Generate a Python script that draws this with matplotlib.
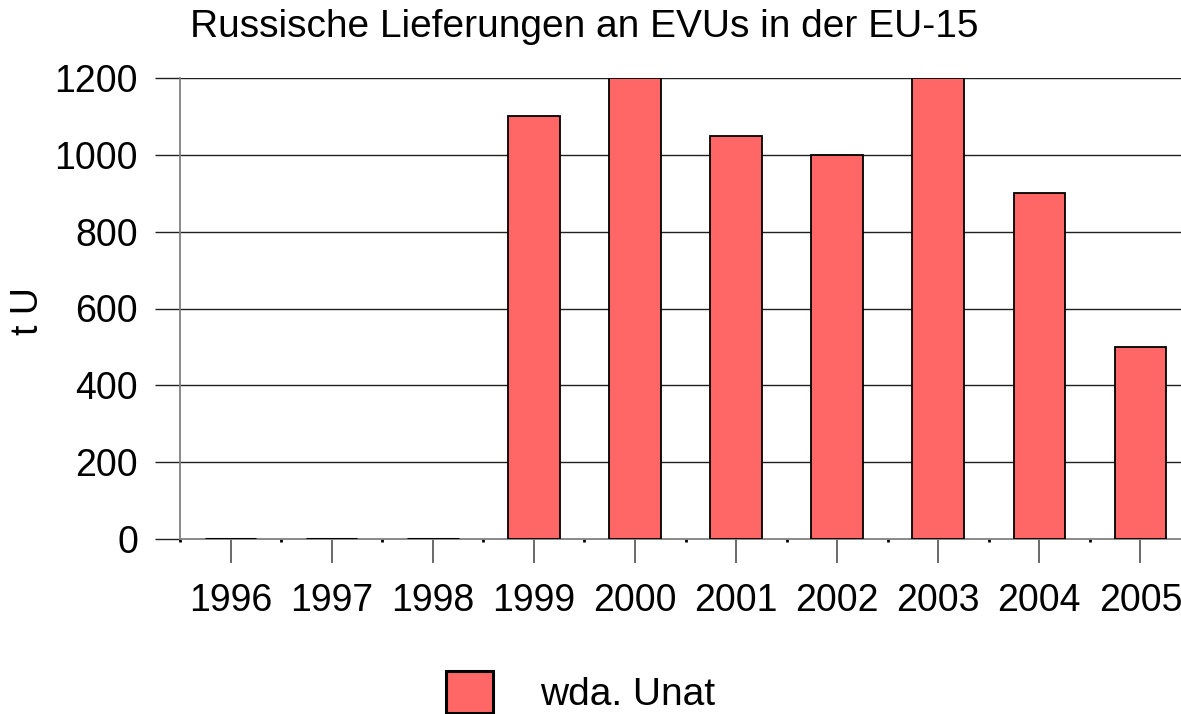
import numpy as np
import matplotlib.pyplot as plt
from matplotlib.ticker import FixedLocator

plt.rcParams['font.family'] = ['Liberation Sans', 'DejaVu Sans']

years = ['1996', '1997', '1998', '1999', '2000', '2001', '2002', '2003', '2004', '2005']
values = [0, 0, 0, 1100, 1200, 1050, 1000, 1200, 900, 500]
series_name = 'wda. Unat'
title = 'Russische Lieferungen an EVUs in der EU-15'
ylabel = 't U'
yticks = [0, 200, 400, 600, 800, 1000, 1200]

W, H = 1181, 714
PX = 72 / 100  # points per pixel at dpi 100
fig = plt.figure(figsize=(W / 100, H / 100), dpi=100)
# axes: left at x=180px, right beyond image edge (~1191px), y from 78 to 539 px
ax = fig.add_axes([180 / W, (H - 539) / H, (1191 - 180) / W, (539 - 78) / H])

x = np.arange(len(years))
bars = ax.bar(x, values, width=0.51, color='#FF6666', edgecolor='black',
              linewidth=1.3, label=series_name, zorder=4)
# zero-height bars show as a heavier black stroke on the baseline
for rect, v in zip(bars, values):
    if v == 0:
        rect.set_linewidth(2.2)

ax.set_xlim(-0.5, len(years) - 0.5)
ax.set_ylim(0, 1200)

ax.set_yticks(yticks)
ax.set_yticklabels([str(v) for v in yticks], fontsize=27)
ax.yaxis.grid(True, color='#202020', linewidth=1.0, zorder=1)
ax.get_ygridlines()[0].set_visible(False)
ax.tick_params(axis='y', length=25 * PX, width=1.0, color='#202020', pad=17 * PX)
ax.yaxis.get_major_ticks()[0].tick1line.set_color('#808080')

ax.set_xticks(x)
ax.set_xticklabels(years, fontsize=27)
ax.xaxis.set_minor_locator(FixedLocator(np.arange(-0.5, len(years), 1.0)))
ax.tick_params(axis='x', which='major', length=24 * PX, width=1.2, color='#505050',
               pad=20 * PX)
ax.tick_params(axis='x', which='minor', length=3 * PX, width=2.0, color='black')

for side in ['top', 'right']:
    ax.spines[side].set_visible(False)
for side in ['left', 'bottom']:
    ax.spines[side].set_color('#808080')
    ax.spines[side].set_linewidth(1.3)
    ax.spines[side].set_zorder(3)

fig.text(28 / W, 1 - 311 / H, ylabel, fontsize=27, rotation=90,
         ha='center', va='center')
fig.text(190 / W, 1 - 27 / H, title, fontsize=28, ha='left', va='center')

fig.legend(handles=[bars], labels=[series_name], loc='upper left',
           bbox_to_anchor=(430 / W, 1 - 655 / H), frameon=False, fontsize=28,
           handlelength=1.23, handleheight=1.3, handletextpad=1.2,
           borderaxespad=0)

fig.savefig('out.png', dpi=100)
